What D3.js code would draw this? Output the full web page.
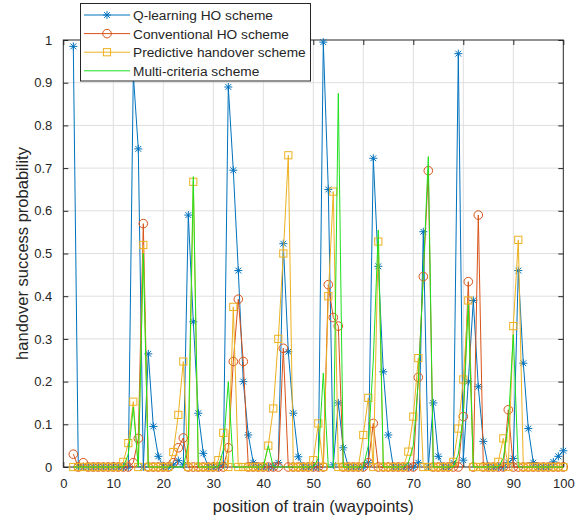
<!DOCTYPE html>
<html>
<head>
<meta charset="utf-8">
<script src="https://cdn.jsdelivr.net/npm/d3@7"></script>
<style>
  body { margin: 0; background: #fff; }
  svg { font-family: "Liberation Sans", Arial, sans-serif; }
</style>
</head>
<body>
<svg id="chart" width="587" height="521"></svg>
<script>
// waypoints 2..100
var waypoints = d3.range(2, 101);

var qLearning = [
  0.985, 0, 0, 0, 0, 0, 0, 0, 0,
  0, 0, 0, 0.92, 0.745, 0, 0.265, 0.095, 0.025, 0,
  0, 0.005, 0.015, 0.005, 0.59, 0.34, 0.126, 0.032, 0, 0,
  0, 0.005, 0.89, 0.695, 0.46, 0.2, 0.075, 0.01, 0, 0,
  0, 0, 0.01, 0.523, 0.27, 0.126, 0.024, 0, 0, 0,
  0, 0.995, 0.65, 0.005, 0.15, 0.045, 0, 0, 0, 0,
  0.01, 0.723, 0.47, 0.223, 0.075, 0, 0, 0, 0, 0,
  0.01, 0.551, 0, 0.15, 0.025, 0, 0, 0.01, 0.968, 0.016,
  0.2, 0.39, 0.188, 0.06, 0, 0, 0, 0, 0.01, 0.02,
  0.46, 0.243, 0.09, 0.01, 0, 0, 0, 0.012, 0.025, 0.038
];

var conventional = [
  0.03, 0, 0.01, 0, 0, 0, 0, 0, 0,
  0, 0, 0, 0.01, 0.067, 0.57, 0, 0, 0, 0,
  0, 0.01, 0.045, 0.068, 0, 0, 0, 0, 0, 0,
  0, 0, 0.045, 0.247, 0.393, 0.247, 0, 0, 0, 0,
  0, 0, 0, 0.278, 0, 0, 0, 0, 0, 0,
  0, 0, 0.427, 0.35, 0.33, 0, 0, 0, 0, 0,
  0.01, 0.102, 0, 0, 0, 0, 0, 0, 0, 0,
  0.21, 0.446, 0.694, 0, 0, 0, 0, 0, 0, 0.118,
  0.434, 0, 0.59, 0, 0, 0, 0, 0, 0.134, 0,
  0, 0, 0, 0, 0, 0, 0, 0, 0, 0
];

var predictive = [
  0, 0, 0, 0, 0, 0, 0, 0, 0,
  0, 0.012, 0.056, 0.153, 0, 0.52, 0, 0, 0, 0,
  0, 0.035, 0.122, 0.247, 0, 0.668, 0, 0, 0, 0,
  0.016, 0.08, 0, 0.375, 0, 0, 0, 0, 0, 0,
  0.05, 0.137, 0.30, 0.50, 0.73, 0, 0, 0, 0, 0.016,
  0.102, 0, 0.40, 0.645, 0, 0, 0, 0, 0, 0.075,
  0.162, 0, 0.528, 0, 0, 0, 0, 0, 0.036, 0.118,
  0.255, 0, 0, 0, 0, 0, 0, 0.012, 0.09, 0.205,
  0.39, 0, 0, 0, 0, 0, 0.012, 0.067, 0, 0.33,
  0.532, 0, 0, 0, 0, 0, 0, 0, 0, 0
];

var multiCriteria = [
  0, 0, 0, 0, 0, 0, 0, 0, 0,
  0, 0, 0.03, 0.14, 0, 0.50, 0, 0, 0, 0,
  0, 0, 0, 0, 0.055, 0.68, 0, 0, 0, 0,
  0, 0.04, 0.2, 0, 0, 0, 0, 0, 0, 0,
  0.05, 0, 0, 0, 0, 0, 0, 0, 0, 0,
  0.02, 0.22, 0, 0, 0.875, 0, 0, 0, 0, 0,
  0.05, 0.25, 0.555, 0, 0, 0, 0, 0, 0.01, 0.05,
  0.2, 0.45, 0.727, 0, 0, 0, 0, 0, 0.03, 0.12,
  0.38, 0, 0, 0, 0, 0, 0, 0.02, 0.1, 0.31,
  0, 0, 0, 0, 0, 0, 0, 0, 0, 0
];

var seriesNames = ["Q-learning HO scheme", "Conventional HO scheme", "Predictive handover scheme", "Multi-criteria scheme"];
var xTicks = [0, 10, 20, 30, 40, 50, 60, 70, 80, 90, 100];
var yTicks = [0, 0.1, 0.2, 0.3, 0.4, 0.5, 0.6, 0.7, 0.8, 0.9, 1];

var series = [
  { name: seriesNames[0], values: qLearning, color: "#0072BD", marker: "star" },
  { name: seriesNames[1], values: conventional, color: "#D95319", marker: "circle" },
  { name: seriesNames[2], values: predictive, color: "#EDB120", marker: "square" },
  { name: seriesNames[3], values: multiCriteria, color: "#1ee01e", marker: "none" }
];

var svg = d3.select("#chart");
var plotL = 63.3, plotR = 563.3, plotT = 40, plotB = 467;

var x = d3.scaleLinear().domain([0, 100]).range([plotL, plotR]);
var y = d3.scaleLinear().domain([0, 1]).range([plotB, plotT]);

var axisColor = "#262626";

// grid
svg.append("g").selectAll("line").data(xTicks.slice(1, -1)).enter().append("line")
  .attr("x1", d => x(d)).attr("x2", d => x(d)).attr("y1", plotT).attr("y2", plotB)
  .attr("stroke", "#dfdfdf").attr("stroke-width", 1);
svg.append("g").selectAll("line").data(yTicks.slice(1, -1)).enter().append("line")
  .attr("y1", d => y(d)).attr("y2", d => y(d)).attr("x1", plotL).attr("x2", plotR)
  .attr("stroke", "#dfdfdf").attr("stroke-width", 1);

// axes with inward ticks on all four sides
function styleAxis(g) {
  g.select(".domain").remove();
  g.selectAll(".tick line").attr("stroke", axisColor);
  g.selectAll(".tick text").attr("fill", axisColor).style("font-size", "13px")
    .style("font-family", "'Liberation Sans', Arial, sans-serif");
}
svg.append("g").attr("transform", "translate(0," + plotB + ")")
  .call(d3.axisBottom(x).tickValues(xTicks).tickSizeInner(-5).tickSizeOuter(0).tickPadding(12))
  .call(styleAxis);
svg.append("g").attr("transform", "translate(0," + plotT + ")")
  .call(d3.axisTop(x).tickValues(xTicks).tickSizeInner(-5).tickSizeOuter(0).tickFormat(""))
  .call(styleAxis);
svg.append("g").attr("transform", "translate(" + plotL + ",0)")
  .call(d3.axisLeft(y).tickValues(yTicks).tickSizeInner(-5).tickSizeOuter(0).tickPadding(11)
    .tickFormat(d => d3.format("~g")(d)))
  .call(styleAxis);
svg.append("g").attr("transform", "translate(" + plotR + ",0)")
  .call(d3.axisRight(y).tickValues(yTicks).tickSizeInner(-5).tickSizeOuter(0).tickFormat(""))
  .call(styleAxis);

svg.append("rect").attr("x", plotL).attr("y", plotT)
  .attr("width", plotR - plotL).attr("height", plotB - plotT)
  .attr("fill", "none").attr("stroke", axisColor).attr("stroke-width", 1);

// markers
var starPath = "M-4,0H4M0,-4V4M-2.9,-2.9L2.9,2.9M-2.9,2.9L2.9,-2.9";
function drawMarker(g, type, color) {
  if (type === "star") {
    g.append("path").attr("d", starPath).attr("stroke", color).attr("stroke-width", 1).attr("fill", "none");
  } else if (type === "circle") {
    g.append("circle").attr("r", 4.3).attr("stroke", color).attr("stroke-width", 1).attr("fill", "none");
  } else if (type === "square") {
    g.append("rect").attr("x", -3.6).attr("y", -3.6).attr("width", 7.2).attr("height", 7.2)
      .attr("stroke", color).attr("stroke-width", 1).attr("fill", "none");
  }
}

var line = d3.line().x((d, i) => x(waypoints[i])).y(d => y(d));

series.forEach(function (s) {
  var g = svg.append("g");
  g.append("path").datum(s.values).attr("d", line)
    .attr("fill", "none").attr("stroke", s.color).attr("stroke-width", 1);
  if (s.marker !== "none") {
    g.selectAll("g.m").data(s.values).enter().append("g").attr("class", "m")
      .attr("transform", (d, i) => "translate(" + x(waypoints[i]) + "," + y(d) + ")")
      .each(function () { drawMarker(d3.select(this), s.marker, s.color); });
  }
});

// axis labels
svg.append("text").attr("x", (plotL + plotR) / 2).attr("y", 512)
  .attr("text-anchor", "middle").attr("fill", axisColor).style("font-size", "16.5px")
  .text("position of train (waypoints)");
svg.append("text").attr("transform", "translate(28," + (plotT + plotB) / 2 + ") rotate(-90)")
  .attr("text-anchor", "middle").attr("fill", axisColor).style("font-size", "16.5px")
  .text("handover success probability");

// legend
var lg = svg.append("g");
lg.append("rect").attr("x", 80.5).attr("y", 3.5).attr("width", 230).attr("height", 77.5)
  .attr("fill", "#fff").attr("stroke", axisColor).attr("stroke-width", 1);
series.forEach(function (s, i) {
  var ry = 15 + i * 18.6;
  var row = lg.append("g");
  row.append("line").attr("x1", 84).attr("x2", 130).attr("y1", ry).attr("y2", ry)
    .attr("stroke", s.color).attr("stroke-width", 1);
  var m = row.append("g").attr("transform", "translate(107," + ry + ")");
  drawMarker(m, s.marker, s.color);
  row.append("text").attr("x", 133).attr("y", ry).attr("dy", "0.36em")
    .attr("fill", axisColor).style("font-size", "13.7px").text(s.name);
});
</script>
</body>
</html>
